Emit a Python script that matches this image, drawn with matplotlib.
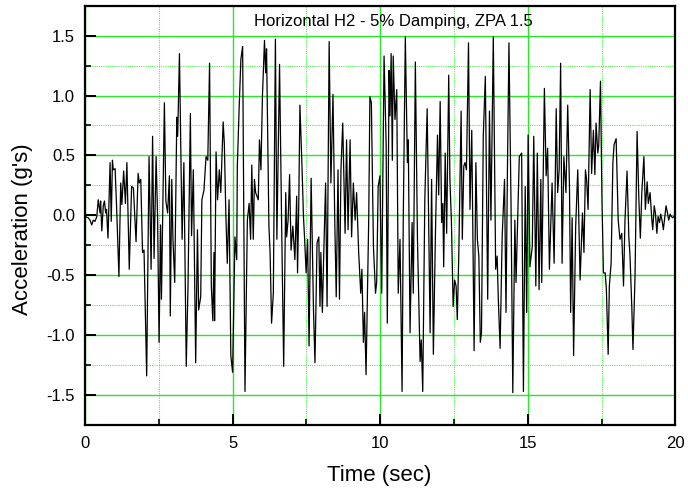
import matplotlib
matplotlib.use("Agg")
import matplotlib.pyplot as plt
import numpy as np
from matplotlib.ticker import MultipleLocator

# acceleration time history in four chunks
time_a = [0.00, 0.11, 0.17, 0.23, 0.28, 0.34, 0.40, 0.45, 0.51, 0.53, 0.57, 0.62, 0.66, 0.70,
          0.73, 0.78, 0.85, 0.89, 0.93, 0.96, 1.02, 1.07, 1.15, 1.21, 1.25, 1.31, 1.37, 1.42,
          1.50, 1.58, 1.64, 1.73, 1.80, 1.84, 1.89, 1.93, 1.95, 2.00, 2.09, 2.17, 2.24, 2.29,
          2.34, 2.41, 2.46, 2.51, 2.56, 2.59, 2.69, 2.74, 2.80, 2.86, 2.89, 2.94, 2.98, 3.04,
          3.11, 3.14, 3.20, 3.29, 3.35, 3.43, 3.49, 3.57, 3.61, 3.67, 3.75, 3.81, 3.85, 3.92,
          3.96, 4.03, 4.10, 4.16, 4.22, 4.28, 4.33, 4.37, 4.39, 4.44, 4.49, 4.55, 4.60, 4.68,
          4.72, 4.77, 4.82, 4.88, 4.94, 5.00]
accel_a = [-0.01, -0.02, -0.04, -0.08, -0.04, -0.05, -0.01, 0.13, 0.02, 0.12, -0.13, 0.08, 0.12, 0.02,
           0.05, -0.19, 0.44, -0.05, 0.46, 0.38, 0.39, 0.08, -0.51, 0.27, 0.09, 0.37, 0.10, 0.44,
           -0.45, 0.24, 0.23, -0.22, 0.35, 0.27, 0.30, -0.09, -0.31, -0.29, -1.34, 0.49, -0.45, 0.66,
           -0.36, 0.49, -0.02, -1.06, -0.08, -0.70, 0.94, 0.12, 0.02, 0.33, -0.84, 0.30, -0.20, -0.56,
           0.82, 0.66, 1.35, -0.20, 0.44, -1.26, -0.59, 0.85, -0.17, 0.38, -1.23, -0.12, -0.79, -0.68,
           0.13, 0.21, 0.49, 0.46, 1.27, -0.59, -0.88, -0.31, -0.88, 0.53, 0.13, 0.38, 0.19, 0.78,
           0.60, 0.02, -0.40, 0.13, -1.17, -1.31]

time_b = [5.08, 5.14, 5.16, 5.22, 5.28, 5.34, 5.42, 5.50, 5.56, 5.61, 5.65, 5.70, 5.74, 5.78,
          5.87, 5.91, 5.96, 6.01, 6.08, 6.12, 6.15, 6.23, 6.27, 6.32, 6.38, 6.45, 6.50, 6.59,
          6.66, 6.73, 6.80, 6.83, 6.88, 6.93, 6.98, 7.04, 7.11, 7.17, 7.20, 7.24, 7.28, 7.35,
          7.40, 7.44, 7.49, 7.54, 7.59, 7.66, 7.74, 7.79, 7.86, 7.92, 7.96, 7.99, 8.04, 8.09,
          8.15, 8.20, 8.27, 8.33, 8.40, 8.46, 8.51, 8.57, 8.62, 8.67, 8.73, 8.81, 8.86, 8.91,
          8.98, 9.03, 9.09, 9.15, 9.20, 9.27, 9.34, 9.38, 9.43, 9.47, 9.52, 9.61, 9.65, 9.70,
          9.77, 9.84, 9.88, 9.93, 9.99]
accel_b = [-0.18, -0.37, 0.41, 0.88, 1.30, 1.41, -1.47, -0.04, 0.10, -0.20, 0.42, -0.20, 0.30, 0.19,
           0.13, 0.63, 0.38, 0.99, 1.46, 1.19, 1.39, -0.09, -0.31, -0.90, -0.65, 1.47, -0.20, 1.26,
           -0.06, -1.26, 0.19, -0.18, -0.04, 0.34, -0.29, -0.09, -0.37, 0.16, -0.48, 0.08, 0.92, 0.41,
           -0.01, -0.20, -0.48, -0.20, -1.09, 0.31, -0.79, -1.23, -0.23, -0.18, -0.76, -0.31, -0.81, -0.29,
           0.27, -0.76, 1.45, 0.27, 1.01, -0.04, -0.68, 0.38, -0.70, 0.38, 0.77, -0.15, 0.63, -0.12,
           0.63, -0.18, 0.27, -0.04, 0.19, -0.31, -0.65, -0.45, -1.06, -0.81, -1.33, -0.04, 0.99, 0.94,
           -0.26, -0.65, -0.56, 0.24, 0.33]

time_c = [10.05, 10.13, 10.20, 10.24, 10.30, 10.33, 10.37, 10.41, 10.44, 10.50, 10.56, 10.61, 10.67, 10.74,
          10.78, 10.85, 10.92, 10.95, 11.01, 11.08, 11.12, 11.19, 11.26, 11.35, 11.39, 11.44, 11.51, 11.59,
          11.69, 11.74, 11.80, 11.87, 11.94, 11.98, 12.03, 12.08, 12.12, 12.15, 12.20, 12.25, 12.32, 12.36,
          12.41, 12.47, 12.52, 12.57, 12.61, 12.66, 12.74, 12.78, 12.83, 12.87, 12.92, 12.99, 13.04, 13.10,
          13.18, 13.24, 13.29, 13.34, 13.39, 13.43, 13.49, 13.56, 13.64, 13.70, 13.75, 13.83, 13.91, 13.96,
          14.00, 14.06, 14.13, 14.21, 14.26, 14.31, 14.36, 14.43, 14.49, 14.56, 14.60, 14.66, 14.71, 14.79,
          14.85, 14.91, 14.96, 15.01, 15.07]
accel_c = [-0.65, 1.33, 0.60, -0.90, 1.21, 0.83, 1.35, 0.46, 1.33, 0.80, 1.05, -0.65, -0.20, -1.47,
           -0.04, 1.49, 0.44, 0.63, -0.98, -0.06, -0.65, 1.28, -0.18, -1.22, -1.04, -1.47, 0.13, 0.89,
           -0.98, 0.30, -1.16, -0.15, 0.67, 0.17, 0.95, -0.06, 0.10, -0.43, 0.52, -0.15, 1.17, 0.30,
           -0.04, -0.76, -0.54, -0.59, -0.87, -0.34, 0.87, -0.20, 0.41, 0.44, 0.38, 1.44, 0.05, 0.71,
           -1.13, 0.44, -0.20, -0.34, -1.06, -0.98, 0.66, 1.16, -0.70, 0.87, -0.04, 1.49, -0.45, -0.34,
           -0.70, -1.11, -0.18, 0.30, -0.81, 0.41, 1.44, 0.10, -1.48, -0.04, -0.56, 0.02, 0.49, 0.52,
           -1.47, 0.24, -0.81, 0.67, -0.43]

time_d = [15.15, 15.20, 15.27, 15.32, 15.38, 15.44, 15.47, 15.56, 15.62, 15.67, 15.73, 15.78, 15.82, 15.89,
          15.96, 16.01, 16.06, 16.11, 16.16, 16.22, 16.29, 16.35, 16.41, 16.45, 16.50, 16.55, 16.62, 16.69,
          16.74, 16.77, 16.85, 16.90, 16.95, 16.99, 17.04, 17.11, 17.16, 17.22, 17.27, 17.31, 17.37, 17.40,
          17.46, 17.51, 17.56, 17.62, 17.66, 17.72, 17.76, 17.82, 17.88, 17.92, 17.99, 18.06, 18.12, 18.18,
          18.24, 18.29, 18.36, 18.42, 18.46, 18.52, 18.56, 18.63, 18.70, 18.76, 18.81, 18.86, 18.93, 18.98,
          19.04, 19.08, 19.14, 19.20, 19.23, 19.28, 19.32, 19.37, 19.41, 19.46, 19.50, 19.55, 19.59, 19.64,
          19.68, 19.73, 19.77, 19.82, 19.86, 19.91, 19.95]
accel_d = [-0.26, 0.66, -0.59, 0.52, -0.62, 0.30, -0.56, 1.06, 0.33, 0.56, -0.45, -0.06, 0.27, -0.40,
           0.89, 0.19, 0.38, 1.27, -0.40, 0.49, 0.19, 0.92, 0.24, -0.81, -0.02, -1.17, -0.09, 0.38,
           -0.18, -0.54, 0.02, -0.31, 0.38, 0.30, 0.05, 1.05, 0.35, 0.71, 0.34, 0.77, 0.52, 0.58,
           1.12, 0.13, -0.48, -0.48, -0.62, -1.16, -0.59, -0.40, 0.44, 0.59, 0.64, -0.04, -0.20, -0.15,
           -0.59, -0.04, 0.37, -0.18, -0.34, -0.76, -1.12, -0.51, 0.70, 0.13, -0.19, 0.19, 0.49, 0.05,
           0.28, 0.10, 0.19, -0.04, -0.12, 0.08, 0.02, -0.15, -0.01, -0.06, 0.01, -0.05, -0.12, -0.01,
           0.08, 0.02, -0.04, 0.01, -0.01, -0.02, -0.01]

TITLE = "Horizontal H2 - 5% Damping, ZPA 1.5"
XLABEL = "Time (sec)"
YLABEL = "Acceleration (g's)"
GRID_GREEN = "#2be52b"

plt.rcParams.update({
    "font.family": ["Liberation Sans", "DejaVu Sans"],
    "axes.linewidth": 1.6,
})

time = np.concatenate([time_a, time_b, time_c, time_d])
accel = np.concatenate([accel_a, accel_b, accel_c, accel_d])

fig = plt.figure(figsize=(6.88, 4.95), dpi=100)
ax = fig.add_axes([0.1235, 0.1414, 0.8583, 0.8471])

ax.plot(time, accel, color="black", linewidth=0.9, zorder=3)

ax.set_xlim(0, 20)
ax.set_ylim(-1.75, 1.75)
ax.xaxis.set_major_locator(MultipleLocator(5))
ax.xaxis.set_minor_locator(MultipleLocator(2.5))
ax.yaxis.set_major_locator(MultipleLocator(0.5))
ax.yaxis.set_minor_locator(MultipleLocator(0.25))
ax.yaxis.set_major_formatter(plt.FormatStrFormatter("%.1f"))

ax.grid(True, which="major", color=GRID_GREEN, linestyle="-", linewidth=1.0, zorder=1)
ax.grid(True, which="minor", color="#55ee55", linestyle=(0, (1, 1)), linewidth=0.8, zorder=1)
ax.set_axisbelow(True)

ax.tick_params(axis="both", which="major", direction="in", length=8, width=1.4,
               labelsize=12, top=False, right=False)
ax.tick_params(axis="both", which="minor", direction="in", length=4, width=1.2,
               top=False, right=False)
ax.tick_params(axis="y", which="major", pad=7)
ax.tick_params(axis="x", which="major", pad=8)

# axis titles sit a little off-centre in the original, so place them by hand
fig.text(379 / 688, 1 - 475 / 495, XLABEL, ha="center", va="center", fontsize=16)
fig.text(23 / 688, 1 - 229 / 495, YLABEL, ha="center", va="center", rotation=90, fontsize=16)
ax.text(0.522, 0.962, TITLE, transform=ax.transAxes, ha="center", va="center", fontsize=12)

fig.savefig("out.png", dpi=100)
